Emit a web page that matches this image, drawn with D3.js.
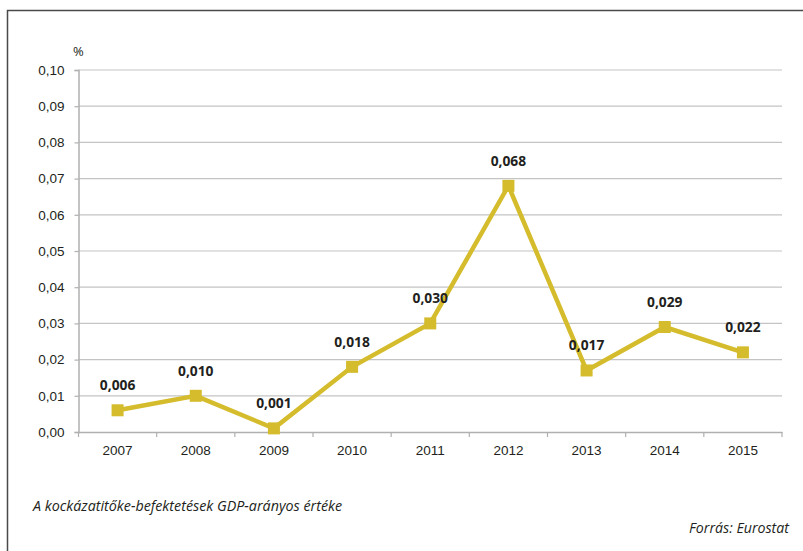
<!DOCTYPE html>
<html><head><meta charset="utf-8">
<script src="https://cdn.jsdelivr.net/npm/d3@7"></script>
<style>
body{margin:0;background:#fff;}
svg{display:block;font-family:"Open Sans",sans-serif;}
</style></head>
<body>
<svg id="c" width="803" height="551"></svg>
<script>
const years = ["2007","2008","2009","2010","2011","2012","2013","2014","2015"];
const values = [0.006,0.010,0.001,0.018,0.030,0.068,0.017,0.029,0.022];
const valueLabels = ["0,006","0,010","0,001","0,018","0,030","0,068","0,017","0,029","0,022"];
const yTicks = [0,0.01,0.02,0.03,0.04,0.05,0.06,0.07,0.08,0.09,0.10];
const caption = "A kockázatitőke-befektetések GDP-arányos értéke";
const source = "Forrás: Eurostat";
const unit = "%";

(function(){
const svg = d3.select("#c");
const color = "#d4bc2c";
svg.append("rect").attr("x",7.5).attr("y",10.5).attr("width",810).attr("height",560)
  .attr("fill","none").attr("stroke","#4a4a4a").attr("stroke-width",1.5);

const pL=78.5, pR=782, pT=70, pB=432;
const x = d3.scaleBand().domain(years).range([pL,pR]);
const y = d3.scaleLinear().domain([0,0.10]).range([pB,pT]);

svg.append("g").selectAll("line").data(yTicks.slice(1)).join("line")
  .attr("x1",pL).attr("x2",pR).attr("y1",d=>y(d)).attr("y2",d=>y(d))
  .attr("stroke","#c4c4c4").attr("stroke-width",1.2);

const fmt = d=>d3.format(".2f")(d).replace(".",",");
const ya = svg.append("g").attr("transform",`translate(${pL},0)`)
  .call(d3.axisLeft(y).tickValues(yTicks).tickFormat(fmt).tickSize(4).tickPadding(10));
ya.select(".domain").attr("stroke","#b0b0b0").attr("stroke-width",1.5);
ya.selectAll(".tick line").attr("stroke","#b0b0b0").attr("stroke-width",1.2);
ya.selectAll("text").attr("font-size",13.5).attr("fill","#231f20");

const xa = svg.append("g").attr("transform",`translate(0,${pB})`)
  .call(d3.axisBottom(x).tickSize(0).tickPadding(13));
xa.select(".domain").attr("stroke","#b0b0b0").attr("stroke-width",1.5);
xa.selectAll("text").attr("font-size",13.5).attr("fill","#231f20");
const bounds = years.map(d=>x(d)).concat([pR]);
svg.append("g").selectAll("line").data(bounds).join("line")
  .attr("x1",d=>d).attr("x2",d=>d).attr("y1",pB).attr("y2",pB+5)
  .attr("stroke","#b0b0b0").attr("stroke-width",1.2);

svg.append("text").attr("x",73).attr("y",56).attr("font-size",13).attr("fill","#231f20").text(unit);

const cx = d=>x(d)+x.bandwidth()/2;
const line = d3.line().x((d,i)=>cx(years[i])).y(d=>y(d));
svg.append("path").datum(values).attr("d",line).attr("fill","none")
  .attr("stroke",color).attr("stroke-width",4.5).attr("stroke-linejoin","miter");
svg.append("g").selectAll("rect").data(values).join("rect")
  .attr("x",(d,i)=>cx(years[i])-6).attr("y",d=>y(d)-6).attr("width",12).attr("height",12)
  .attr("fill",color);
svg.append("g").selectAll("text").data(values).join("text")
  .attr("x",(d,i)=>cx(years[i])).attr("y",d=>y(d)-20)
  .attr("text-anchor","middle").attr("font-size",13.8).attr("font-weight","bold").attr("fill","#231f20")
  .text((d,i)=>valueLabels[i]);

svg.append("text").attr("x",33).attr("y",511).attr("font-size",14.3).attr("font-style","italic")
  .attr("fill","#231f20").text(caption);
svg.append("text").attr("x",789).attr("y",533).attr("text-anchor","end").attr("font-size",14.2)
  .attr("font-style","italic").attr("fill","#231f20").text(source);
})();
</script>
</body></html>
